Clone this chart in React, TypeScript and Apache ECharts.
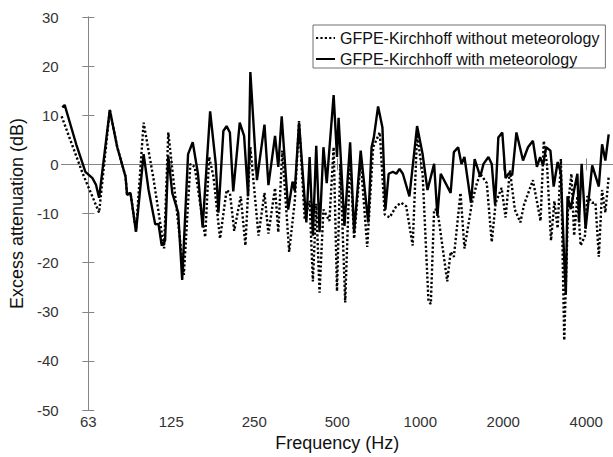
import React, { useEffect, useRef } from "react";
import * as echarts from "echarts";

// Frequency axis (log scale, octave bands)
const tickFreqs = [62.5, 125, 250, 500, 1000, 2000, 4000];
const tickLabels = ["63", "125", "250", "500", "1000", "2000", "4000"];
const freqMin = 50;
const freqMax = 5000;

// Excess attenuation axis
const yMin = -50;
const yMax = 30;
const yStep = 10;

const seriesNames = [
  "GFPE-Kirchhoff without meteorology",
  "GFPE-Kirchhoff with meteorology",
];

// Without meteorology (dotted)
const dottedFreq = [
  50.0, 59.6, 68.4, 74.8, 79.6, 85.3, 86.4, 88.9, 93.1, 99.2,
  107.8, 117.7, 121.9, 138.8, 146.6, 152.0, 165.9, 171.5, 177.8, 187.8,
  198.4, 203.9, 211.4, 223.3, 232.1, 241.9, 259.0, 272.2, 281.3, 297.3,
  305.5, 315.8, 334.5, 350.6, 363.3, 380.8, 396.9, 407.8, 419.4, 431.1,
  445.4, 468.1, 485.0, 498.8, 512.6, 534.1, 556.6, 575.4, 607.9, 642,
  674.6, 713, 743, 774.3, 818.3, 852.8, 888.8, 938.5, 973.6, 1019.4,
  1070.7, 1092, 1122.5, 1153.6, 1252.6, 1288.5, 1323.9, 1399.1, 1446.2, 1539.9,
  1604.8, 1650, 1742.6, 1816, 1876.9, 1971.9, 2038.7, 2113.8, 2202.6, 2306.9,
  2378, 2561.9, 2729.8, 2805.2, 2882.6, 2979.4, 3065, 3149.4, 3235.6, 3327.6,
  3439.6, 3534.2, 3614, 3714, 3816, 3957, 4033, 4202.7, 4319, 4441.7,
  4564.6, 4691, 4823,
];
const dottedDb = [
  9.8, -1.8, -9.8, 11.1, 3.5, -2.5, -6.2, -5.8, -13.6, 8.5,
  -3, -17.1, 6.5, -22.5, 0.1, -0.5, -14.8, 1.5, -2.5, -15.1,
  -5.2, -5.8, -13.5, -6.5, -16.5, 3.5, -14.5, -5.8, -14.1, -4.8,
  -13.8, 2.8, -17.8, -7.5, 8.8, -11.2, -7.4, -23.8, -8, -26.1,
  -9.2, -11.5, 3.5, -25.8, 0.1, -28.1, 1.5, -15.1, 0.8, -16.8,
  3.5, 6.5, -10.2, -10.8, -8.5, -7.8, -8.5, -16.5, 6.1, -1.9,
  -27.8, -28.4, -9.2, -9.2, -23.8, -17.8, -18.8, -5.8, -17.1, -7.8,
  -3.8, -1.9, -3.8, -15.8, -7.8, -4.8, -10.8, -1.2, -9.2, -11.8,
  -8.2, -3.2, -11.5, 4.8, -0.2, -15.5, -7.5, -13, 1.1, -35.8,
  -7.8, -1.9, -14.5, -6.5, -16.5, -14.5, -6.5, -7.8, -7.8, -18.8,
  -5.2, -9.8, -2.5,
];

// With meteorology (solid)
const solidFreq = [
  50.3, 51.3, 56.5, 61.0, 64.7, 66.6, 68.4, 74.8, 79.6, 85.3,
  86.4, 88.9, 93.1, 99.2, 103.4, 109.3, 112.3, 115.4, 118.7, 121.9,
  126.0, 132.4, 136.9, 143.8, 149.5, 156.2, 162.4, 172.9, 181.2, 185.3,
  193.1, 198.4, 203.9, 209.7, 221.4, 229.6, 237.4, 241.9, 255.6, 272.2,
  281.3, 297.3, 305.5, 314.3, 331.8, 344.1, 350.6, 363.3, 386.1, 396.9,
  407.8, 419.4, 431.1, 445.4, 457.8, 485.0, 498.8, 505.4, 530.9, 556.6,
  575.4, 607.9, 647.3, 665.7, 678.5, 703.0, 729.0, 747.3, 767.9, 795.6,
  818.3, 840.9, 864.4, 913.2, 973.6, 1019.4, 1062, 1122.5, 1153.6, 1186.3,
  1288.5, 1323.9, 1371.7, 1410.7, 1446.2, 1527, 1574.5, 1650, 1695.6, 1767,
  1816, 1867.5, 1919, 1983.8, 2038.7, 2096.7, 2154.5, 2232, 2358.7, 2458,
  2561.9, 2648, 2720.8, 2789, 2858.9, 2964.5, 3046.4, 3149.4, 3235.6, 3327.6,
  3372, 3419.6, 3513.7, 3614, 3714, 3765.7, 3847.6, 3977, 4202.7, 4441.7,
  4564.6, 4691, 4823,
];
const solidDb = [
  11.6, 12.1, 4.1, -1.5, -2.8, -4.1, -6.8, 11.1, 3.5, -2.5,
  -6.2, -5.8, -13.7, 2.1, -5.2, -12.2, -12.1, -16.5, -15.5, 1.8,
  -5.8, -9.8, -23.5, 2.1, 4.5, -1.9, -12.8, 10.8, 0.1, -9.8,
  6.8, 7.8, 6.5, -5.5, 8.5, 5.8, -6.5, 18.8, -3.2, 8.1,
  -4.2, 5.8, -0.5, 9.8, -9.2, -3.5, -5.4, 8.5, -11.8, 1.5,
  -14.5, 3.8, -13.8, 3.5, -3.8, 14.1, 1.5, 9.5, -12.5, 4.5,
  -13.8, 2.8, -11.8, 3.5, 5.5, 11.8, 7.5, -9.2, -1.9, -1.5,
  -1.9, -0.9, -1.9, -6.5, 7.8, 2.1, -5.2, 0.1, -10.5, -1.9,
  -5.8, 2.5, 3.5, 0.1, 1.5, -7.8, 1.1, -2.5, 0.1, 1.5,
  0.1, -8.2, 5.5, 6.5, -2.8, -1.8, -2.2, 6.5, 0.8, 3.5,
  4.8, -0.5, 1.5, -0.2, 3.5, 2.8, -4.5, 0.5, -1.8, -19.5,
  -26.5, -6.5, -9.1, -5.2, -1.9, -11.8, 0.1, -13.1, -0.2, -4.5,
  4.1, 0.8, 6.1,
];

const FONT = "'Liberation Sans', Arial, sans-serif";
const AXIS_COLOR = "#858585";
const TEXT_COLOR = "#333";

const toOct = (f: number) => Math.log2(f / tickFreqs[0]);

export default function App() {
  const ref = useRef<HTMLDivElement>(null);

  useEffect(() => {
    if (!ref.current) return;
    const chart = echarts.init(ref.current, undefined, { renderer: "svg" });
    const xMin = toOct(freqMin);
    const xMax = toOct(freqMax);
    const tickVals = tickFreqs.map(toOct);
    const labelFor = (v: number) => {
      const i = tickVals.findIndex((t) => Math.abs(t - v) < 1e-6);
      return i >= 0 ? tickLabels[i] : "";
    };

    const xBase = {
      type: "value" as const,
      min: xMin,
      max: xMax,
      splitLine: { show: false },
      axisLine: { show: true, lineStyle: { color: AXIS_COLOR, width: 1 } },
      axisTick: {
        show: true,
        inside: true,
        length: 6,
        customValues: tickVals,
        lineStyle: { color: AXIS_COLOR },
      },
    };
    const yBase = {
      type: "value" as const,
      min: yMin,
      max: yMax,
      interval: yStep,
      splitLine: { show: false },
      axisLine: { show: true, lineStyle: { color: AXIS_COLOR, width: 1 } },
      axisTick: { show: true, inside: true, length: 6, lineStyle: { color: AXIS_COLOR } },
    };

    chart.setOption({
      animation: false,
      backgroundColor: "#fff",
      textStyle: { fontFamily: FONT },
      grid: { left: 58, top: 17, width: 558, height: 401, containLabel: false },
      legend: {
        orient: "vertical",
        left: 313,
        top: 25,
        itemWidth: 19,
        itemHeight: 14,
        itemGap: 5,
        padding: [5, 6, 1, 2],
        borderColor: "#707070",
        borderWidth: 1,
        backgroundColor: "#fff",
        borderRadius: 0,
        data: seriesNames,
        itemStyle: { opacity: 0 },
        textStyle: { fontSize: 16, color: "#111", fontFamily: FONT },
      },
      xAxis: [
        {
          ...xBase,
          position: "bottom",
          name: "Frequency (Hz)",
          nameLocation: "middle",
          nameGap: 23,
          nameTextStyle: { fontSize: 18, color: "#111", fontFamily: FONT },
          axisLabel: {
            show: true,
            customValues: tickVals,
            formatter: (v: number) => labelFor(v),
            fontSize: 15,
            color: TEXT_COLOR,
            margin: 4,
            fontFamily: FONT,
          },
        },
        {
          ...xBase,
          position: "top",
          axisLabel: { show: false },
        },
      ],
      yAxis: [
        {
          ...yBase,
          position: "left",
          name: "Excess attenuation (dB)",
          nameLocation: "middle",
          nameGap: 29,
          nameTextStyle: { fontSize: 18, color: "#111", fontFamily: FONT },
          axisLabel: { fontSize: 15, color: TEXT_COLOR, margin: 3, fontFamily: FONT },
        },
        {
          ...yBase,
          position: "right",
          axisLabel: { show: false },
        },
      ],
      series: [
        {
          name: seriesNames[0],
          type: "line",
          xAxisIndex: 0,
          yAxisIndex: 0,
          symbol: "none",
          showSymbol: false,
          data: dottedFreq.map((f, i) => [toOct(f), dottedDb[i]]),
          lineStyle: { color: "#000", width: 2.4, type: [2.2, 2.2] },
          itemStyle: { color: "#000" },
        },
        {
          name: seriesNames[1],
          type: "line",
          xAxisIndex: 0,
          yAxisIndex: 0,
          symbol: "none",
          showSymbol: false,
          data: solidFreq.map((f, i) => [toOct(f), solidDb[i]]),
          lineStyle: { color: "#000", width: 2.4, type: "solid" },
          itemStyle: { color: "#000" },
        },
      ],
    });
    return () => chart.dispose();
  }, []);

  return (
    <div
      ref={ref}
      style={{ position: "absolute", left: 0, top: 0, width: 613, height: 457 }}
    />
  );
}
